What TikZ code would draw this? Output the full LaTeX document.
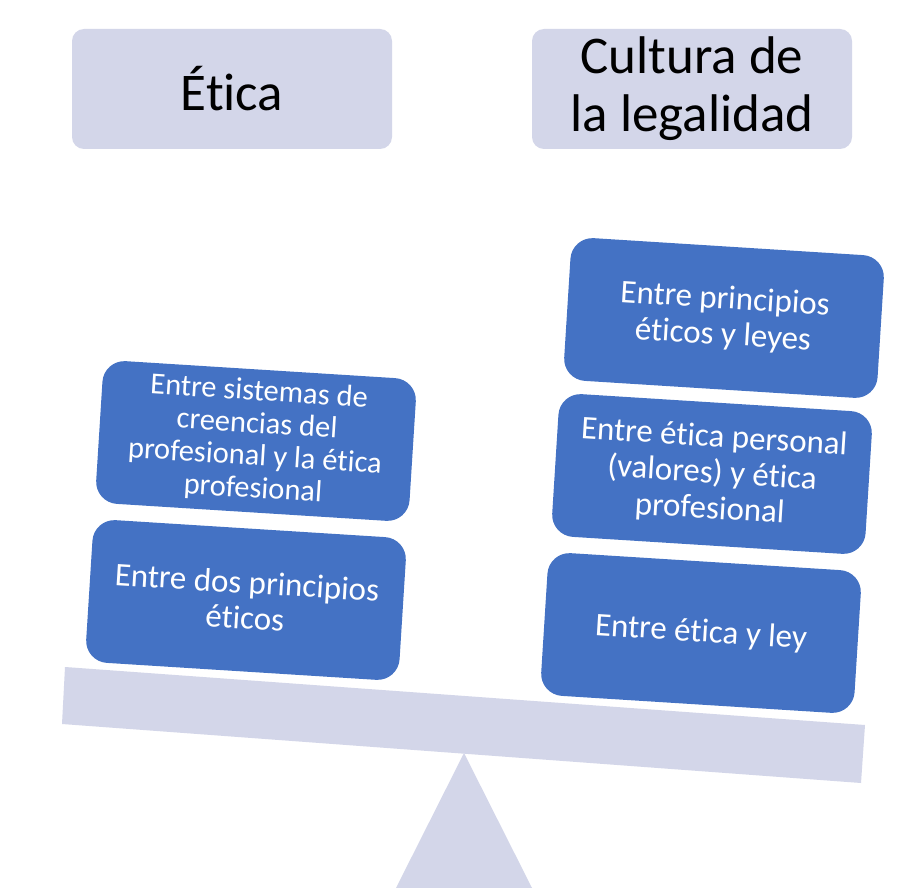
\documentclass[tikz,border=0pt]{standalone}
\usepackage{fontspec}
\setmainfont{Carlito}[Ligatures=NoCommon]
\definecolor{lav}{HTML}{D3D6E9}
\definecolor{blu}{HTML}{4472C4}
\begin{document}
\begin{tikzpicture}[x=1pt,y=-1pt,
  titlebox/.style={fill=lav, rounded corners=12pt, minimum width=320pt, minimum height=120pt,
    align=center, inner sep=0pt, font=\fontsize{53}{58}\selectfont},
  itembox/.style={fill=blu, text=white, rounded corners=22pt, minimum width=314pt,
    minimum height=143pt, align=center, rotate=-3.6, inner sep=0pt},
  bigtxt/.style={font=\fontsize{33}{36}\selectfont},
  smalltxt/.style={font=\fontsize{30.5}{32.5}\selectfont}]
\useasboundingbox (0,0) rectangle (924,888);
\fill[white] (0,0) rectangle (924,888);
% titles
\node[titlebox] (etica) at (232,89) {Ética};
\node[titlebox] (cultura) at (692,89) {Cultura de\\la legalidad};
% fulcrum
\coordinate (apex) at (464,753);
\coordinate (baseL) at (396,888);
\coordinate (baseR) at (532,888);
\fill[lav] (apex) -- (baseL) -- (baseR) -- cycle;
% beam
\coordinate (b1) at (65,667);
\coordinate (b2) at (865,725);
\coordinate (b3) at (861,783);
\coordinate (b4) at (62,724);
\fill[lav] (b1) -- (b2) -- (b3) -- (b4) -- cycle;
% left stack
\node[itembox, smalltxt] (l1) at (256,441) {Entre sistemas de\\creencias del\\profesional y la ética\\profesional};
\node[itembox, bigtxt] (l2) at (246,600) {Entre dos principios\\éticos};
% right stack
\node[itembox, bigtxt] (r1) at (724,318) {Entre principios\\éticos y leyes};
\node[itembox, bigtxt] (r2) at (712,474) {Entre ética personal\\(valores) y ética\\profesional};
\node[itembox, bigtxt] (r3) at (701,633) {Entre ética y ley};
\end{tikzpicture}
\end{document}
